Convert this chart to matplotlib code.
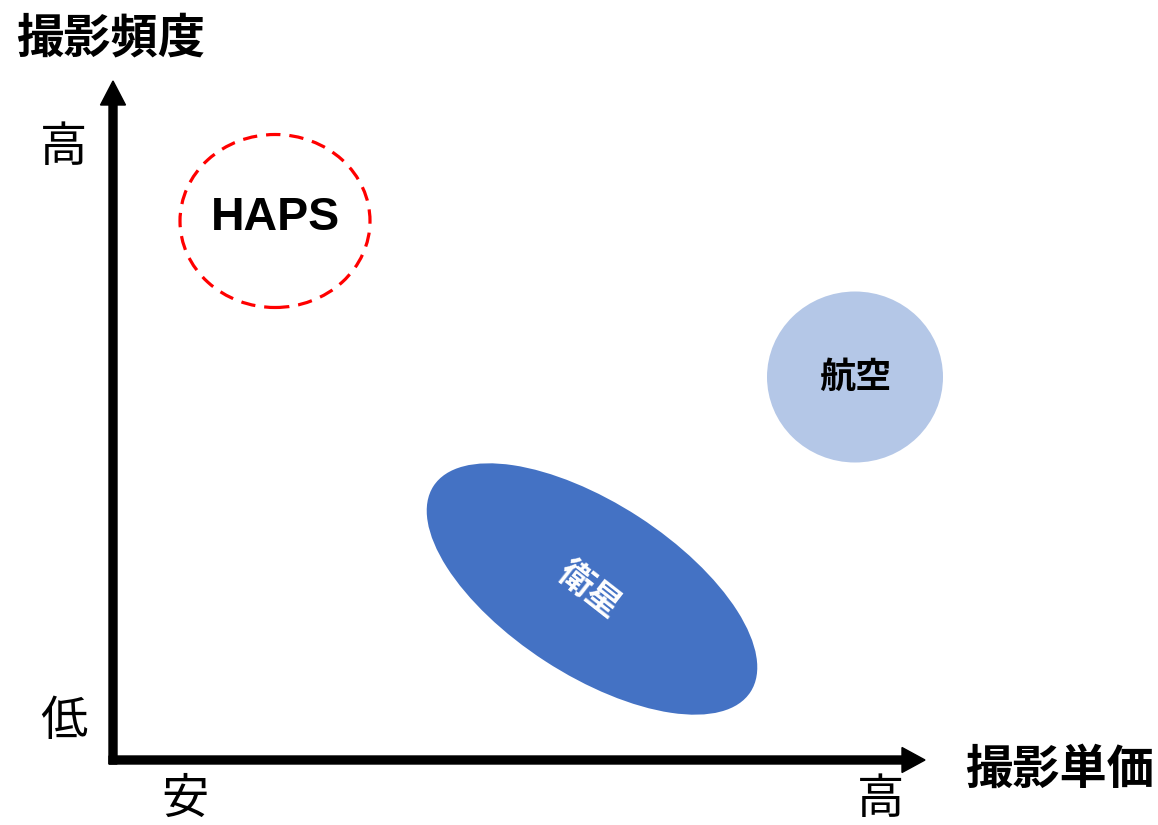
import matplotlib
matplotlib.use("Agg")
import matplotlib.pyplot as plt
from matplotlib.patches import Ellipse, FancyArrow

plt.rcParams['font.family'] = ['Noto Sans CJK JP', 'DejaVu Sans']

# Conceptual positioning (units: price score, frequency score)
labels = ["HAPS", "航空", "衛星"]
price = [162, 742, 479]
freq = [539, 383, 171]
widths = [190, 176, 378]
heights = [173, 171, 172]
angles = [0, 0, -33]

x_label = "撮影単価"
y_label = "撮影頻度"
x_ticks = ["安", "高"]
y_ticks = ["低", "高"]

fig = plt.figure(figsize=(11.58, 8.25), dpi=100)
ax = fig.add_axes([0, 0, 1, 1])
ax.set_xlim(-113, 1045)
ax.set_ylim(-65, 760)
ax.set_aspect('equal')
ax.axis('off')

# axes arrows
lw = 8
ax.add_patch(FancyArrow(0, -4, 0, 679 - 24 + 4, width=lw, head_width=25, head_length=24,
                        length_includes_head=False, color='black'))
ax.add_patch(FancyArrow(-4, 0, 812 - 23 + 4, 0, width=lw, head_width=25, head_length=23,
                        length_includes_head=False, color='black'))

# HAPS dashed circle
ax.add_patch(Ellipse((price[0], freq[0]), widths[0], heights[0], angle=angles[0],
                     fill=False, edgecolor='#FF0000', linewidth=2.3, linestyle=(0, (4.5, 2.8))))
ax.text(price[0] + 1, freq[0] + 3, labels[0], ha='center', va='center', fontsize=33.5,
        fontweight='bold', family=['Liberation Sans', 'DejaVu Sans'], color='black')

# 航空
ax.add_patch(Ellipse((price[1], freq[1]), widths[1], heights[1], angle=angles[1],
                     facecolor='#B4C7E7', edgecolor='none'))
ax.text(price[1], freq[1], labels[1], ha='center', va='center', fontsize=26,
        fontweight='bold', color='black')

# 衛星
ax.add_patch(Ellipse((price[2], freq[2]), widths[2], heights[2], angle=angles[2],
                     facecolor='#4472C4', edgecolor='none'))
ax.text(price[2] - 3, freq[2] - 1, labels[2], ha='center', va='center', fontsize=25,
        fontweight='bold', color='white', rotation=-38, rotation_mode='anchor')

# axis labels
ax.text(-2, 722, y_label, ha='center', va='center', fontsize=34, fontweight='bold')
ax.text(947, -10, x_label, ha='center', va='center', fontsize=34, fontweight='bold')

# tick labels
ax.text(-49, 38, y_ticks[0], ha='center', va='center', fontsize=34)
ax.text(-49, 612, y_ticks[1], ha='center', va='center', fontsize=34)
ax.text(72, -40, x_ticks[0], ha='center', va='center', fontsize=34)
ax.text(768, -40, x_ticks[1], ha='center', va='center', fontsize=34)

fig.savefig("out.png", dpi=100)
